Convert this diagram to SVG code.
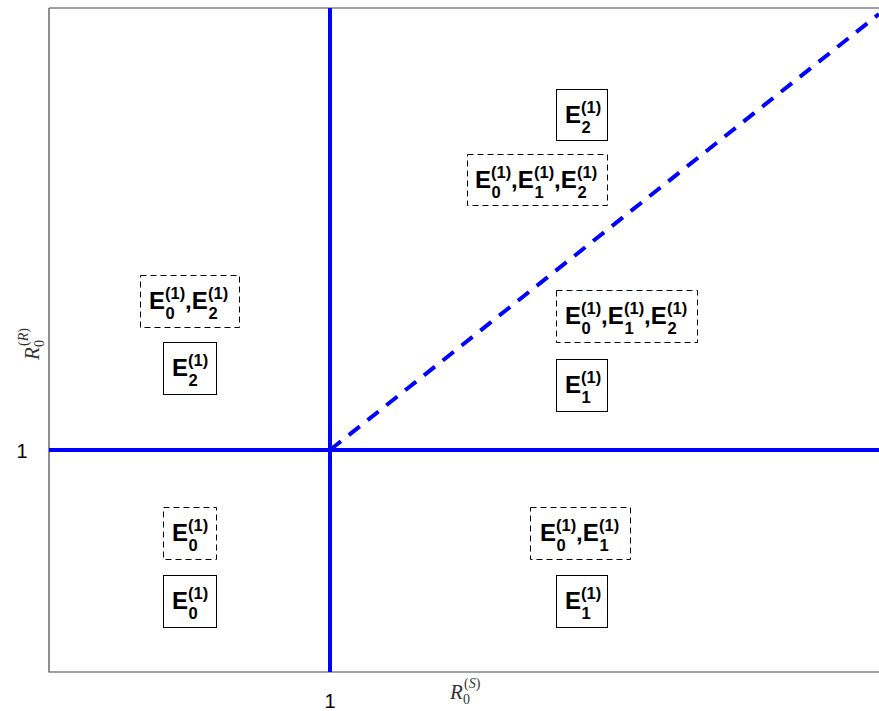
<svg xmlns="http://www.w3.org/2000/svg" width="879" height="711" viewBox="0 0 879 711">
<style>
.ax{stroke:#444;stroke-width:1.2;fill:none}
.bl{stroke:#0000ff;stroke-width:4;fill:none}
.bx{fill:#fff;stroke:#000;stroke-width:1}
.dbx{fill:#fff;stroke:#000;stroke-width:1;stroke-dasharray:6 4}
.E{font-family:"Liberation Sans",Arial,sans-serif;font-weight:bold;font-size:24px;fill:#000}
.s{font-size:16.5px}
.tk{font-family:"Liberation Sans",Arial,sans-serif;font-size:20px;fill:#000}
.lab{font-family:"Liberation Serif","DejaVu Serif",serif;font-style:italic;font-size:21px;fill:#333}
.ls{font-size:14px;font-style:normal}
.li{font-size:14px;font-style:italic}
</style>
<rect x="0" y="0" width="879" height="711" fill="#fff"/>
<g id="axes">
<path class="ax" d="M49,8 H879 M49,8 V672 H879"/>
<text class="tk" x="330" y="708" text-anchor="middle">1</text>
<text class="tk" x="22" y="458" text-anchor="middle">1</text>
<text class="lab" x="450" y="699">R<tspan class="ls" x="463" y="704">0</tspan><tspan class="ls" x="464" y="688">(</tspan><tspan class="li">S</tspan><tspan class="ls">)</tspan></text>
<text class="lab" transform="translate(39,360) rotate(-90)"><tspan x="0" y="0">R</tspan><tspan class="ls" x="13" y="5">0</tspan><tspan class="ls" x="14" y="-11">(</tspan><tspan class="li">R</tspan><tspan class="ls">)</tspan></text>
</g>
<g id="connectors">
<line class="bl" x1="49" y1="450" x2="879" y2="450"/>
<line class="bl" x1="330" y1="8" x2="330" y2="672"/>
<line class="bl" x1="330" y1="450" x2="879" y2="14" stroke-dasharray="14 10"/>
</g>
<g id="n_top_E2">
<rect class="bx" x="556.5" y="89.5" width="51" height="51"/>
<text class="E" x="565" y="123">E<tspan class="s" x="581" y="113">(1)</tspan><tspan class="s" x="581.5" y="133">2</tspan></text>
</g>
<g id="n_top_E012">
<rect class="dbx" x="467.5" y="154.5" width="140" height="51"/>
<text class="E" x="475" y="188">E<tspan class="s" x="491" y="178">(1)</tspan><tspan class="s" x="491.5" y="198">0</tspan><tspan x="511" y="188">,</tspan>E<tspan class="s" x="534" y="178">(1)</tspan><tspan class="s" x="534.5" y="198">1</tspan><tspan x="554" y="188">,</tspan>E<tspan class="s" x="577" y="178">(1)</tspan><tspan class="s" x="577.5" y="198">2</tspan></text>
</g>
<g id="n_left_E02">
<rect class="dbx" x="140.5" y="275.5" width="99" height="52"/>
<text class="E" x="149" y="309">E<tspan class="s" x="165" y="299">(1)</tspan><tspan class="s" x="165.5" y="319">0</tspan><tspan x="185" y="309">,</tspan>E<tspan class="s" x="208" y="299">(1)</tspan><tspan class="s" x="208.5" y="319">2</tspan></text>
</g>
<g id="n_left_E2">
<rect class="bx" x="163.5" y="342.5" width="53" height="52"/>
<text class="E" x="172" y="376">E<tspan class="s" x="188" y="366">(1)</tspan><tspan class="s" x="188.5" y="386">2</tspan></text>
</g>
<g id="n_right_E012">
<rect class="dbx" x="556.5" y="290.5" width="141" height="52"/>
<text class="E" x="565" y="324">E<tspan class="s" x="581" y="314">(1)</tspan><tspan class="s" x="581.5" y="334">0</tspan><tspan x="601" y="324">,</tspan>E<tspan class="s" x="624" y="314">(1)</tspan><tspan class="s" x="624.5" y="334">1</tspan><tspan x="644" y="324">,</tspan>E<tspan class="s" x="667" y="314">(1)</tspan><tspan class="s" x="667.5" y="334">2</tspan></text>
</g>
<g id="n_right_E1">
<rect class="bx" x="556.5" y="359.5" width="51" height="52"/>
<text class="E" x="565" y="393">E<tspan class="s" x="581" y="383">(1)</tspan><tspan class="s" x="581.5" y="403">1</tspan></text>
</g>
<g id="n_bl_E0_dashed">
<rect class="dbx" x="163.5" y="507.5" width="53" height="52"/>
<text class="E" x="172" y="541">E<tspan class="s" x="188" y="531">(1)</tspan><tspan class="s" x="188.5" y="551">0</tspan></text>
</g>
<g id="n_bl_E0">
<rect class="bx" x="163.5" y="575.5" width="53" height="52"/>
<text class="E" x="172" y="609">E<tspan class="s" x="188" y="599">(1)</tspan><tspan class="s" x="188.5" y="619">0</tspan></text>
</g>
<g id="n_br_E01">
<rect class="dbx" x="530.5" y="507.5" width="100" height="52"/>
<text class="E" x="540" y="541">E<tspan class="s" x="556" y="531">(1)</tspan><tspan class="s" x="556.5" y="551">0</tspan><tspan x="576" y="541">,</tspan>E<tspan class="s" x="599" y="531">(1)</tspan><tspan class="s" x="599.5" y="551">1</tspan></text>
</g>
<g id="n_br_E1">
<rect class="bx" x="556.5" y="575.5" width="51" height="52"/>
<text class="E" x="565" y="609">E<tspan class="s" x="581" y="599">(1)</tspan><tspan class="s" x="581.5" y="619">1</tspan></text>
</g>
</svg>
